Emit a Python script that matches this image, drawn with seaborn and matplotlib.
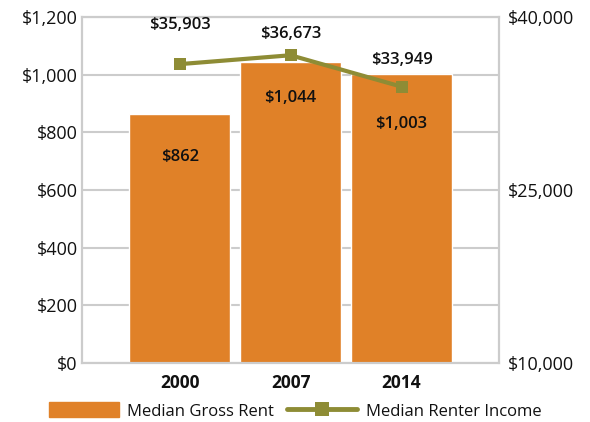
import matplotlib
matplotlib.use("Agg")
import matplotlib.pyplot as plt
import seaborn as sns
import pandas as pd
from matplotlib.ticker import FuncFormatter
from matplotlib.patches import Patch
from matplotlib.lines import Line2D

years = ["2000", "2007", "2014"]
gross_rent = [862, 1044, 1003]
renter_income = [35903, 36673, 33949]

rent_offsets = [-31, -26, -36]
income_offsets = [28, 15, 19]

bar_color = "#E08128"
line_color = "#8E8C35"
grid_color = "#CCCCCC"

sns.set_style("white")
plt.rcParams["font.family"] = ["Open Sans", "DejaVu Sans"]
plt.rcParams["text.color"] = "#111111"
plt.rcParams["xtick.color"] = "#111111"
plt.rcParams["ytick.color"] = "#111111"

df = pd.DataFrame({"year": years, "rent": gross_rent, "income": renter_income})

fig, ax = plt.subplots(figsize=(5.9, 4.22), dpi=100)
fig.subplots_adjust(left=0.139, right=0.846, top=0.96, bottom=0.14)

sns.barplot(data=df, x="year", y="rent", color=bar_color, saturation=1,
            width=0.91, ax=ax, zorder=2)
ax.set_ylim(0, 1200)
ax.set_yticks(range(0, 1201, 200))
ax.yaxis.set_major_formatter(FuncFormatter(lambda v, p: f"${v:,.0f}"))
ax.set_xlim(-0.88, 2.88)
ax.grid(axis="y", color=grid_color, linewidth=1.5, zorder=0)
ax.set_axisbelow(True)
ax.set_xlabel("")
ax.set_ylabel("")
for s in ax.spines.values():
    s.set_color(grid_color)
    s.set_linewidth(1.5)
ax.tick_params(axis="y", length=0, labelsize=13, pad=3)
ax.tick_params(axis="x", length=0, labelsize=12.5, pad=8)
for t in ax.get_xticklabels():
    t.set_fontweight("bold")

for i, v in enumerate(gross_rent):
    ax.annotate(f"${v:,}", (i, v), xytext=(0, rent_offsets[i]), textcoords="offset points",
                ha="center", va="center", fontsize=12, fontweight="semibold")

ax2 = ax.twinx()
sns.lineplot(x=[0, 1, 2], y=renter_income, color=line_color, linewidth=3,
             marker="s", markersize=9, markeredgewidth=0, ax=ax2)
ax2.set_ylim(10000, 40000)
ax2.set_yticks([10000, 25000, 40000])
ax2.yaxis.set_major_formatter(FuncFormatter(lambda v, p: f"${v:,.0f}"))
ax2.tick_params(axis="y", length=0, labelsize=13, pad=6)
for s in ax2.spines.values():
    s.set_color(grid_color)
    s.set_linewidth(1.5)
for i, v in enumerate(renter_income):
    ax2.annotate(f"${v:,}", (i, v), xytext=(0, income_offsets[i]), textcoords="offset points",
                 ha="center", va="center", fontsize=12, fontweight="semibold")

handles = [Patch(color=bar_color, label="Median Gross Rent"),
           Line2D([], [], color=line_color, linewidth=3.5, marker="s", markersize=10,
                  markeredgewidth=0, label="Median Renter Income")]
fig.legend(handles=handles, loc="lower center", ncol=2, frameon=False, fontsize=12,
           bbox_to_anchor=(0.5, -0.03), handlelength=4.2, handleheight=1.0,
           columnspacing=0.8, handletextpad=0.5)

fig.savefig("out.png", dpi=100)
